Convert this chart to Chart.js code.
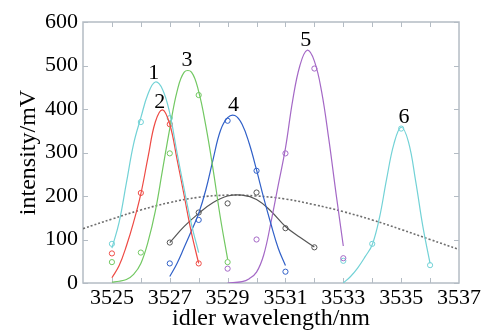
<!DOCTYPE html>
<html>
<head>
<meta charset="utf-8">
<script src="https://cdn.jsdelivr.net/npm/chart.js@4/dist/chart.umd.min.js"></script>
<style>
  html, body { margin: 0; padding: 0; background: #fff; }
  #wrap { width: 485px; height: 333px; }
</style>
</head>
<body>
<div id="wrap"><canvas id="chart1"></canvas></div>
<script>
// tick labels
const xTickLabels = [3525, 3527, 3529, 3531, 3533, 3535, 3537];
const yTickLabels = [0, 100, 200, 300, 400, 500, 600];

// fitted curves
const fit1X = [3525, 3525.25, 3525.5, 3525.75, 3526, 3526.25, 3526.5, 3526.75, 3527, 3527.25, 3527.5, 3527.75, 3528];
const fit1Y = [80, 140, 230, 320, 380, 435, 462, 445, 390, 300, 215, 135, 70];

const fit2X = [3525, 3525.25, 3525.5, 3525.75, 3526, 3526.25, 3526.5, 3526.75, 3527, 3527.25, 3527.5, 3527.75, 3528];
const fit2Y = [12, 40, 85, 140, 205, 290, 370, 398, 365, 285, 200, 115, 45];

const fit3X = [3525, 3525.25, 3525.5, 3525.75, 3526, 3526.25, 3526.5, 3526.75, 3527, 3527.25, 3527.5, 3527.75, 3528, 3528.25, 3528.5, 3528.75, 3529];
const fit3Y = [2, 4, 8, 20, 45, 95, 165, 260, 355, 440, 485, 485, 440, 360, 260, 150, 55];

const fit4X = [3527, 3527.25, 3527.5, 3527.75, 3528, 3528.25, 3528.5, 3528.75, 3529, 3529.25, 3529.5, 3529.75, 3530, 3530.25, 3530.5, 3530.75, 3531];
const fit4Y = [15, 45, 82, 120, 160, 215, 285, 350, 380, 385, 365, 320, 260, 195, 135, 80, 40];

const fit5X = [3529, 3529.5, 3529.75, 3530, 3530.25, 3530.5, 3530.75, 3531, 3531.25, 3531.5, 3531.75, 3532, 3532.25, 3532.5, 3532.75, 3533];
const fit5Y = [0, 3, 10, 25, 65, 140, 225, 310, 420, 500, 535, 510, 440, 330, 205, 85];

const fit6X = [3533, 3533.25, 3533.5, 3533.75, 3534, 3534.25, 3534.5, 3534.75, 3535, 3535.25, 3535.5, 3535.75, 3536];
const fit6Y = [0, 15, 35, 60, 88, 150, 240, 320, 358, 325, 235, 130, 45];

const fitGrayX = [3527, 3527.5, 3528, 3528.5, 3529, 3529.5, 3530, 3530.5, 3531, 3531.5, 3532];
const fitGrayY = [93, 130, 160, 185, 200, 202, 192, 165, 130, 105, 83];

const dottedX = [3524, 3525, 3526, 3527, 3528, 3529, 3530, 3531, 3532, 3533, 3534, 3535, 3536, 3537];
const dottedY = [125, 147, 168, 185, 197, 202, 200, 193, 180, 164, 145, 123, 100, 77];

// measured points (open circles)
const pts1X = [3525, 3526, 3527];
const pts1Y = [90, 370, 379];
const pts2X = [3525, 3526, 3527, 3528];
const pts2Y = [68, 207, 365, 45];
const pts3X = [3525, 3526, 3527, 3528, 3529];
const pts3Y = [48, 70, 298, 432, 48];
const pts4X = [3527, 3528, 3529, 3530, 3531];
const pts4Y = [45, 145, 373, 258, 26];
const ptsGrayX = [3527, 3528, 3529, 3530, 3531, 3532];
const ptsGrayY = [93, 162, 183, 208, 126, 82];
const pts5X = [3529, 3530, 3531, 3532, 3533];
const pts5Y = [33, 100, 298, 493, 57];
const pts6X = [3533, 3534, 3535, 3536];
const pts6Y = [51, 90, 355, 41];

// curve numbers
const peakNames = ['1', '2', '3', '4', '5', '6'];
const peakNameX = [3526.45, 3526.65, 3527.6, 3529.2, 3531.7, 3535.1];
const peakNameY = [483, 416, 513, 409, 559, 382];

const cCyan = '#72d2d6';
const cRed = '#ee4a44';
const cGreen = '#72c862';
const cBlue = '#3060c8';
const cPurple = '#a468c6';
const cGray = '#555555';

function pairs(xs, ys) {
  return xs.map((x, i) => ({ x: x, y: ys[i] }));
}

function curve(xs, ys, col) {
  return {
    data: pairs(xs, ys),
    borderColor: col,
    borderWidth: 1.2,
    pointRadius: 0,
    tension: 0.4,
    fill: false
  };
}

function marks(xs, ys, col) {
  return {
    data: pairs(xs, ys),
    showLine: false,
    borderColor: col,
    backgroundColor: 'rgba(0,0,0,0)',
    borderWidth: 1,
    pointRadius: 2.6,
    pointStyle: 'circle'
  };
}

const serif = "'Liberation Serif', 'Times New Roman', serif";

// box, inward ticks and curve numbers
const overlay = {
  id: 'overlay',
  beforeDatasetsDraw(chart) {
    const ctx = chart.ctx;
    const a = chart.chartArea;
    const xs = chart.scales.x, ys = chart.scales.y;
    ctx.save();
    ctx.strokeStyle = '#b4bcc4';
    ctx.lineWidth = 1.5;
    ctx.strokeRect(a.left, a.top, a.right - a.left, a.bottom - a.top);
    ctx.lineWidth = 1;
    for (let v = 3525; v <= 3536; v++) {
      const px = Math.round(xs.getPixelForValue(v)) + 0.5;
      ctx.beginPath();
      ctx.moveTo(px, a.bottom); ctx.lineTo(px, a.bottom - 5);
      ctx.moveTo(px, a.top); ctx.lineTo(px, a.top + 5);
      ctx.stroke();
    }
    yTickLabels.forEach(v => {
      const py = Math.round(ys.getPixelForValue(v)) + 0.5;
      ctx.beginPath();
      ctx.moveTo(a.left, py); ctx.lineTo(a.left + 5, py);
      ctx.moveTo(a.right, py); ctx.lineTo(a.right - 5, py);
      ctx.stroke();
    });
    ctx.restore();
  },
  afterDraw(chart) {
    const ctx = chart.ctx;
    const xs = chart.scales.x, ys = chart.scales.y;
    ctx.save();
    ctx.fillStyle = '#000';
    ctx.font = '22px ' + serif;
    ctx.textAlign = 'center';
    ctx.textBaseline = 'middle';
    peakNames.forEach((t, i) => {
      ctx.fillText(t, xs.getPixelForValue(peakNameX[i]), ys.getPixelForValue(peakNameY[i]));
    });
    ctx.restore();
  }
};

const ctx1 = document.getElementById('chart1').getContext('2d');
const chart1 = new Chart(ctx1, {
  type: 'line',
  data: {
    datasets: [
      curve(fit1X, fit1Y, cCyan),
      curve(fit2X, fit2Y, cRed),
      curve(fit3X, fit3Y, cGreen),
      curve(fit4X, fit4Y, cBlue),
      curve(fit5X, fit5Y, cPurple),
      curve(fit6X, fit6Y, cCyan),
      curve(fitGrayX, fitGrayY, cGray),
      Object.assign(curve(dottedX, dottedY, '#6e6e6e'), { borderDash: [2, 2], borderWidth: 1.6 }),
      marks(pts1X, pts1Y, cCyan),
      marks(pts2X, pts2Y, cRed),
      marks(pts3X, pts3Y, cGreen),
      marks(pts4X, pts4Y, cBlue),
      marks(ptsGrayX, ptsGrayY, cGray),
      marks(pts5X, pts5Y, cPurple),
      marks(pts6X, pts6Y, cCyan)
    ]
  },
  options: {
    responsive: true,
    maintainAspectRatio: false,
    animation: false,
    layout: { padding: { left: 0, right: 26, top: 22, bottom: 0 } },
    plugins: {
      legend: { display: false },
      tooltip: { enabled: false }
    },
    scales: {
      x: {
        type: 'linear',
        min: 3524,
        max: 3537,
        afterBuildTicks: s => { s.ticks = xTickLabels.map(v => ({ value: v })); },
        afterFit: s => { s.height = 50; },
        grid: { display: false, drawTicks: false },
        border: { display: false },
        ticks: {
          color: '#000',
          padding: 2,
          maxRotation: 0,
          autoSkip: false,
          font: { family: serif, size: 22 },
          callback: v => String(v)
        },
        title: {
          display: true,
          text: 'idler wavelength/nm',
          color: '#000',
          padding: { top: 0, bottom: 0 },
          font: { family: serif, size: 24 }
        }
      },
      y: {
        min: 0,
        max: 600,
        afterBuildTicks: s => { s.ticks = yTickLabels.map(v => ({ value: v })); },
        afterFit: s => { s.width = 83; },
        grid: { display: false, drawTicks: false },
        border: { display: false },
        ticks: {
          color: '#000',
          padding: 5,
          font: { family: serif, size: 22 }
        },
        title: {
          display: true,
          text: 'intensity/mV',
          color: '#000',
          padding: { top: 14, bottom: 0 },
          font: { family: serif, size: 24 }
        }
      }
    }
  },
  plugins: [overlay]
});
</script>
</body>
</html>
